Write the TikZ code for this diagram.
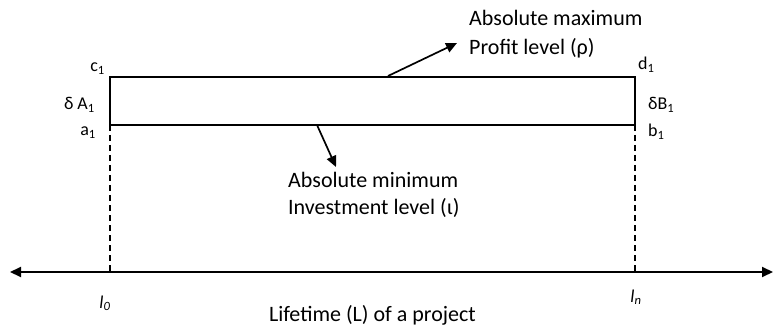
\documentclass[tikz,border=0pt]{standalone}
\usepackage{fontspec}
\setmainfont{Carlito}
\usetikzlibrary{arrows.meta}
\begin{document}
\begin{tikzpicture}[x=1pt,y=-1pt,
  lbl/.style={inner sep=0pt,font=\fontsize{18}{20}\selectfont},
  big/.style={inner sep=0pt,font=\fontsize{22}{24}\selectfont},
  edge/.style={line width=1.5pt},
  pointer/.style={line width=1.7pt,-{Triangle[length=11pt,width=10pt]}},
  guide/.style={line width=1.2pt,dash pattern=on 6pt off 4pt}]
\useasboundingbox (0,0) rectangle (773,331);
% rectangle corners
\coordinate (C) at (110,77);
\coordinate (D) at (635,77);
\coordinate (A) at (110,125);
\coordinate (B) at (635,125);
\coordinate (L0) at (110,272);
\coordinate (Ln) at (635,272);
\coordinate (axL) at (10,272);
\coordinate (axR) at (773,272);
\draw[edge] (A) -- (C) -- (D) -- (B);
\draw[edge] (A) -- (B);
\draw[guide] (A) -- (L0);
\draw[guide] (B) -- (Ln);
\draw[line width=2pt,{Triangle[length=11pt,width=10pt]}-{Triangle[length=11pt,width=10pt]}] (axL) -- (axR);
% corner labels
\node[lbl,anchor=base east] (c1) at (105,72) {c\textsubscript{1}};
\node[lbl,anchor=base east] (dA) at (95,110) {δ A\textsubscript{1}};
\node[lbl,anchor=base east] (a1) at (96,136) {a\textsubscript{1}};
\node[lbl,anchor=base west] (d1) at (638,70) {d\textsubscript{1}};
\node[lbl,anchor=base west] (dB) at (648,110) {δB\textsubscript{1}};
\node[lbl,anchor=base west] (b1) at (648,137) {b\textsubscript{1}};
% top text
\node[big,anchor=base west] (maxA) at (469,26) {Absolute maximum};
\node[big,anchor=base west] (maxB) at (469,55) {Profit level (ρ)};
\coordinate (topP) at (388,76);
\draw[pointer] (topP) -- (457,43) coordinate (topQ);
% bottom text
\node[big,anchor=base west] (minA) at (288,188) {Absolute minimum};
\node[big,anchor=base west] (minB) at (288,214) {Investment level (ι)};
\coordinate (botP) at (317,125);
\draw[pointer] (botP) -- (336,167) coordinate (botQ);
% axis labels
\node[lbl,anchor=base] (l0) at (105,308) {\textit{l\textsubscript{0}}};
\node[lbl,anchor=base] (ln) at (636,302) {\textit{l\textsubscript{n}}};
\node[big,anchor=base east] (life) at (476,321) {Lifetime (L) of a project};
\end{tikzpicture}
\end{document}
